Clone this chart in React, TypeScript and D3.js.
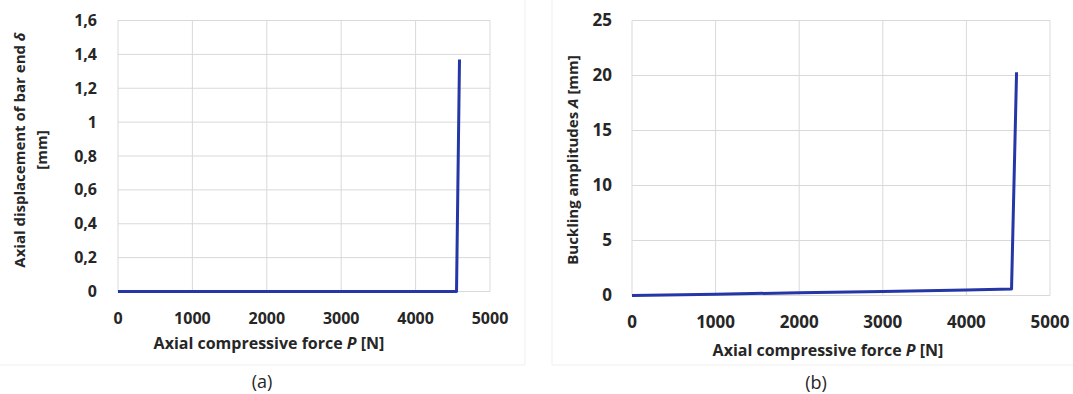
import React, { useEffect, useRef } from 'react'
import * as d3 from 'd3'

// panel (a): axial displacement of bar end vs force
const forceA = [0, 1000, 2000, 3000, 4000, 4550, 4590]
const deltaA = [0, 0, 0, 0, 0, 0, 1.37]
// panel (b): buckling amplitude vs force
const forceB = [0, 1000, 2000, 3000, 4000, 4540, 4600]
const ampB = [0, 0.12, 0.25, 0.37, 0.5, 0.6, 20.3]

const xTicks = [0, 1000, 2000, 3000, 4000, 5000]
const yTicksA = [0, 0.2, 0.4, 0.6, 0.8, 1, 1.2, 1.4, 1.6]
const yTicksB = [0, 5, 10, 15, 20, 25]

const FONT = '"Open Sans", sans-serif'
const LINE = '#2536a6'
const GRID = '#d9d9d9'
const TXT = '#262626'

function fmtComma(v) {
  return String(Math.round(v * 10) / 10).replace('.', ',')
}

function drawPanel(svg, opt) {
  const x = d3.scaleLinear().domain([0, 5000]).range(opt.xr)
  const y = d3.scaleLinear().domain(opt.yd).range(opt.yr)
  const g = svg.append('g')

  // panel frame (very faint)
  g.append('path')
    .attr('d', opt.frame)
    .attr('stroke', '#efefef')
    .attr('fill', 'none')

  // grid
  g.selectAll('.hg').data(opt.yTicks).enter().append('line')
    .attr('x1', opt.xr[0]).attr('x2', opt.xr[1])
    .attr('y1', d => y(d)).attr('y2', d => y(d))
    .attr('stroke', GRID).attr('stroke-width', 1)
  g.selectAll('.vg').data(xTicks).enter().append('line')
    .attr('x1', d => x(d)).attr('x2', d => x(d))
    .attr('y1', opt.yr[0]).attr('y2', opt.yr[1])
    .attr('stroke', GRID).attr('stroke-width', 1)

  // tick labels
  g.selectAll('.yl').data(opt.yTicks).enter().append('text')
    .attr('x', opt.yLabelX).attr('y', d => y(d) + 5.5)
    .attr('text-anchor', 'end')
    .attr('font-family', FONT).attr('font-weight', 700)
    .attr('font-size', opt.fs).attr('fill', TXT)
    .text(d => opt.fmt(d))
  g.selectAll('.xl').data(xTicks).enter().append('text')
    .attr('x', d => x(d)).attr('y', opt.xLabelY)
    .attr('text-anchor', 'middle')
    .attr('font-family', FONT).attr('font-weight', 700)
    .attr('font-size', opt.fs).attr('fill', TXT)
    .text(d => d)

  // data line
  const pts = opt.xs.map((v, i) => [x(v), y(opt.ys[i])])
  g.append('path')
    .attr('d', d3.line()(pts))
    .attr('stroke', LINE).attr('stroke-width', 3)
    .attr('fill', 'none').attr('stroke-linejoin', 'round')

  // x title
  const xt = g.append('text')
    .attr('x', opt.xTitle[0]).attr('y', opt.xTitle[1])
    .attr('text-anchor', 'middle')
    .attr('font-family', FONT).attr('font-weight', 700)
    .attr('font-size', 16).attr('fill', TXT)
  xt.append('tspan').text('Axial compressive force ')
  xt.append('tspan').attr('font-style', 'italic').text('P')
  xt.append('tspan').text(' [N]')

  // y title
  opt.yTitle.forEach(t => {
    const yt = g.append('text')
      .attr('transform', `translate(${t.x},${t.y}) rotate(-90)`)
      .attr('text-anchor', 'middle')
      .attr('font-family', FONT).attr('font-weight', 700)
      .attr('font-size', 15).attr('fill', TXT)
    t.parts.forEach(p => {
      yt.append('tspan').attr('font-style', p[1] ? 'italic' : null).text(p[0])
    })
  })

  // caption
  g.append('text')
    .attr('x', opt.cap[0]).attr('y', opt.cap[1])
    .attr('text-anchor', 'middle')
    .attr('font-family', FONT).attr('font-size', 18).attr('fill', TXT)
    .text(opt.cap[2])
}

export default function App() {
  const ref = useRef(null)

  useEffect(() => {
    const svg = d3.select(ref.current)
    svg.selectAll('*').remove()

    drawPanel(svg, {
      xr: [118, 490], yr: [291.5, 20.5], yd: [0, 1.6],
      yTicks: yTicksA, fmt: fmtComma, fs: 16,
      yLabelX: 97, xLabelY: 324,
      xs: forceA, ys: deltaA,
      xTitle: [269, 349],
      yTitle: [
        { x: 25, y: 150, parts: [['Axial displacement of bar end  '], ['δ', true]] },
        { x: 47, y: 150, parts: [['[mm]']] }
      ],
      cap: [262, 388, '(a)'],
      frame: 'M525,0 V365 H0'
    })

    drawPanel(svg, {
      xr: [632, 1050], yr: [295.5, 20.5], yd: [0, 25],
      yTicks: yTicksB, fmt: d => d, fs: 17,
      yLabelX: 612, xLabelY: 328,
      xs: forceB, ys: ampB,
      xTitle: [828, 356],
      yTitle: [
        { x: 578, y: 160, parts: [['Buckling amplitudes  '], ['A', true], [' [mm]']] }
      ],
      cap: [816, 389, '(b)'],
      frame: 'M552,0 V365 H1073'
    })
  }, [])

  return (
    <svg ref={ref} width={1073} height={394}
      style={{ position: 'absolute', left: 0, top: 0, background: '#fff' }} />
  )
}
